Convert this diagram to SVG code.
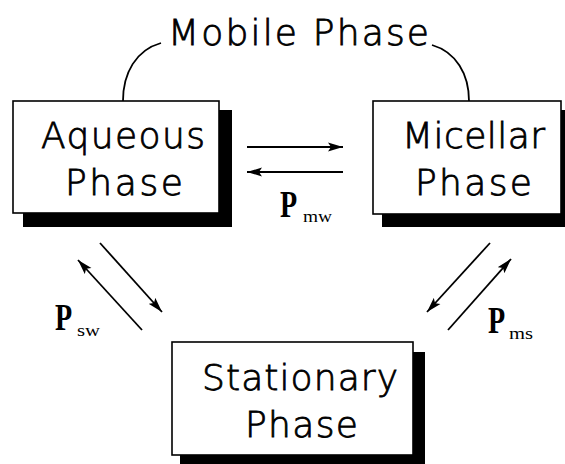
<svg xmlns="http://www.w3.org/2000/svg" width="565" height="464" viewBox="0 0 565 464">
<style>
.box{fill:#fff;stroke:#000;stroke-width:1.6}
.shadow{fill:#000}
.lbl{font-family:"DejaVu Sans","Liberation Sans",sans-serif;font-size:36px;font-weight:300;fill:#000;stroke:#000;stroke-width:0.8}
.P{font-family:"Liberation Serif","Times New Roman",serif;font-size:38px;font-weight:bold;fill:#000}
.sub{font-family:"Liberation Serif","Times New Roman",serif;font-size:17px;fill:#000}
.arr{stroke:#000;stroke-width:1.8;fill:none;marker-end:url(#ah)}
.arc{stroke:#000;stroke-width:1.8;fill:none}
</style>
<defs>
<marker id="ah" markerUnits="userSpaceOnUse" markerWidth="16" markerHeight="10" refX="15" refY="5" orient="auto">
<path d="M0,0.5 L15,5 L0,9.5 L3,5 z" fill="#000"/>
</marker>
</defs>
<rect width="565" height="464" fill="#fff"/>
<g id="mobile-phase">
<path class="arc" d="M161,43 C136,50 123,73 123,101"/>
<path class="arc" d="M432,45 C456,52 469,74 469,101"/>
<text class="lbl" x="168" y="45" textLength="261" lengthAdjust="spacing">Mobile Phase</text>
</g>
<g id="aqueous">
<rect class="shadow" x="23" y="110" width="209" height="117"/>
<rect class="box" x="13" y="101" width="206" height="112"/>
<text class="lbl" x="41" y="148" textLength="164" lengthAdjust="spacing">Aqueous</text>
<text class="lbl" x="65" y="195" textLength="118" lengthAdjust="spacing">Phase</text>
</g>
<g id="micellar">
<rect class="shadow" x="382" y="110" width="195" height="117"/>
<rect class="box" x="373" y="101" width="188" height="113"/>
<text class="lbl" x="402" y="148" textLength="143" lengthAdjust="spacing">Micellar</text>
<text class="lbl" x="415" y="195" textLength="117" lengthAdjust="spacing">Phase</text>
</g>
<g id="stationary">
<rect class="shadow" x="180" y="352" width="245" height="116"/>
<rect class="box" x="172" y="342" width="241" height="113"/>
<text class="lbl" x="202" y="390" textLength="196" lengthAdjust="spacing">Stationary</text>
<text class="lbl" x="245" y="437" textLength="113" lengthAdjust="spacing">Phase</text>
</g>
<g id="connectors">
<line class="arr" x1="247" y1="147" x2="343" y2="147"/>
<line class="arr" x1="343" y1="172" x2="247" y2="172"/>
<line class="arr" x1="100" y1="243" x2="162" y2="312"/>
<line class="arr" x1="142" y1="330" x2="78" y2="260"/>
<line class="arr" x1="490" y1="243" x2="427" y2="312"/>
<line class="arr" x1="448" y1="330" x2="511" y2="259"/>
</g>
<g id="labels">
<text class="P" transform="translate(280,217) scale(0.74,1)">P</text>
<text class="sub" x="303" y="222" textLength="29" lengthAdjust="spacingAndGlyphs">mw</text>
<text class="P" transform="translate(55,330) scale(0.74,1)">P</text>
<text class="sub" x="77" y="336" textLength="23" lengthAdjust="spacingAndGlyphs">sw</text>
<text class="P" transform="translate(488,333) scale(0.74,1)">P</text>
<text class="sub" x="509" y="339" textLength="24" lengthAdjust="spacingAndGlyphs">ms</text>
</g>
</svg>
